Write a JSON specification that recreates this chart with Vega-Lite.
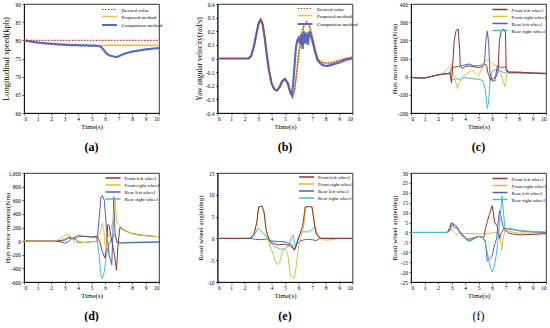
{
"$schema": "https://vega.github.io/schema/vega-lite/v6.json",
"background": "white",
"padding": {"left": 0, "top": 1, "right": 0, "bottom": 0},
"config": {
 "font": "Liberation Serif",
 "view": {"stroke": "#000", "strokeWidth": 0.8},
 "axis": {"labelFont": "Liberation Serif", "titleFont": "Liberation Serif", "labelFontSize": 5.5, "titleFontSize": 7, "titleFontWeight": "normal", "domainColor": "#000", "tickColor": "#000", "labelColor": "#000", "titleColor": "#000", "tickSize": 2, "labelPadding": 1, "grid": false, "domainWidth": 0.8, "tickWidth": 0.6},
 "axisX": {"titlePadding": 1, "labelAngle": 0},
 "axisY": {"titleX": -14, "labelPadding": 1.5},
 "legend": {"orient": "none", "legendX": 83, "legendY": 0, "labelFont": "Liberation Serif", "labelFontSize": 5, "labelColor": "#000", "symbolType": "M-2.5,0H2.5", "symbolSize": 36, "symbolFillColor": "transparent", "rowPadding": -0.5, "padding": 1, "labelOffset": 7.5},
 "title": {"font": "Liberation Serif", "fontSize": 12, "fontWeight": "bold", "color": "#000", "orient": "bottom", "frame": "group", "offset": 12, "anchor": "middle"}
},
"datasets": {
 "a": [
  {"t":0,"v":80,"s":"P"},{"t":0.5,"v":79.7,"s":"P"},{"t":1,"v":79.4,"s":"P"},{"t":1.5,"v":79.2,"s":"P"},{"t":2,"v":79.05,"s":"P"},{"t":2.5,"v":78.9,"s":"P"},{"t":3,"v":78.8,"s":"P"},{"t":3.5,"v":78.7,"s":"P"},{"t":4,"v":78.65,"s":"P"},{"t":4.5,"v":78.6,"s":"P"},{"t":5,"v":78.55,"s":"P"},{"t":5.5,"v":78.5,"s":"P"},{"t":5.7,"v":78.55,"s":"P"},{"t":6,"v":78.6,"s":"P"},{"t":7,"v":78.6,"s":"P"},{"t":8,"v":78.6,"s":"P"},{"t":9,"v":78.6,"s":"P"},{"t":10,"v":78.6,"s":"P"},
  {"t":0,"v":80,"s":"C"},{"t":0.5,"v":79.7,"s":"C"},{"t":1,"v":79.4,"s":"C"},{"t":1.5,"v":79.2,"s":"C"},{"t":2,"v":79.05,"s":"C"},{"t":2.5,"v":78.9,"s":"C"},{"t":3,"v":78.8,"s":"C"},{"t":3.5,"v":78.7,"s":"C"},{"t":4,"v":78.65,"s":"C"},{"t":4.5,"v":78.6,"s":"C"},{"t":5,"v":78.55,"s":"C"},{"t":5.5,"v":78.5,"s":"C"},{"t":5.7,"v":78.2,"s":"C"},{"t":5.9,"v":77.4,"s":"C"},{"t":6.1,"v":76.4,"s":"C"},{"t":6.3,"v":75.9,"s":"C"},{"t":6.5,"v":75.7,"s":"C"},{"t":6.8,"v":75.4,"s":"C"},{"t":7,"v":75.6,"s":"C"},{"t":7.3,"v":76.1,"s":"C"},{"t":7.6,"v":76.5,"s":"C"},{"t":8,"v":76.9,"s":"C"},{"t":8.5,"v":77.2,"s":"C"},{"t":9,"v":77.5,"s":"C"},{"t":9.5,"v":77.7,"s":"C"},{"t":10,"v":77.85,"s":"C"},
  {"t":0,"v":80,"s":"D"},{"t":10,"v":80,"s":"D"}
 ],
 "b": [
  {"t":0,"v":0,"s":"P"},{"t":2.3,"v":0,"s":"P"},{"t":2.5,"v":0.02,"s":"P"},{"t":2.7,"v":0.09,"s":"P"},{"t":2.9,"v":0.19,"s":"P"},{"t":3.05,"v":0.26,"s":"P"},{"t":3.2,"v":0.285,"s":"P"},{"t":3.35,"v":0.25,"s":"P"},{"t":3.5,"v":0.15,"s":"P"},{"t":3.65,"v":0.03,"s":"P"},{"t":3.8,"v":-0.08,"s":"P"},{"t":4,"v":-0.18,"s":"P"},{"t":4.2,"v":-0.225,"s":"P"},{"t":4.4,"v":-0.235,"s":"P"},{"t":4.6,"v":-0.21,"s":"P"},{"t":4.8,"v":-0.165,"s":"P"},{"t":5,"v":-0.15,"s":"P"},{"t":5.2,"v":-0.18,"s":"P"},{"t":5.4,"v":-0.25,"s":"P"},{"t":5.55,"v":-0.285,"s":"P"},{"t":5.7,"v":-0.24,"s":"P"},{"t":5.85,"v":-0.12,"s":"P"},{"t":6,"v":0.02,"s":"P"},{"t":6.2,"v":0.16,"s":"P"},{"t":6.4,"v":0.24,"s":"P"},{"t":6.6,"v":0.265,"s":"P"},{"t":6.8,"v":0.24,"s":"P"},{"t":7,"v":0.17,"s":"P"},{"t":7.2,"v":0.08,"s":"P"},{"t":7.4,"v":0,"s":"P"},{"t":7.6,"v":-0.02,"s":"P"},{"t":7.8,"v":-0.03,"s":"P"},{"t":8.1,"v":-0.035,"s":"P"},{"t":8.5,"v":-0.03,"s":"P"},{"t":9,"v":-0.015,"s":"P"},{"t":9.5,"v":0,"s":"P"},{"t":10,"v":0.01,"s":"P"},
  {"t":0,"v":0,"s":"C"},{"t":2.3,"v":0,"s":"C"},{"t":2.5,"v":0.02,"s":"C"},{"t":2.7,"v":0.09,"s":"C"},{"t":2.9,"v":0.19,"s":"C"},{"t":3.05,"v":0.26,"s":"C"},{"t":3.2,"v":0.285,"s":"C"},{"t":3.35,"v":0.25,"s":"C"},{"t":3.5,"v":0.15,"s":"C"},{"t":3.65,"v":0.03,"s":"C"},{"t":3.8,"v":-0.08,"s":"C"},{"t":4,"v":-0.18,"s":"C"},{"t":4.2,"v":-0.225,"s":"C"},{"t":4.4,"v":-0.235,"s":"C"},{"t":4.6,"v":-0.21,"s":"C"},{"t":4.8,"v":-0.165,"s":"C"},{"t":5,"v":-0.15,"s":"C"},{"t":5.2,"v":-0.18,"s":"C"},{"t":5.4,"v":-0.25,"s":"C"},{"t":5.5,"v":-0.265,"s":"C"},{"t":5.6,"v":-0.2,"s":"C"},{"t":5.7,"v":-0.06,"s":"C"},{"t":5.8,"v":0.07,"s":"C"},{"t":5.9,"v":0.13,"s":"C"},{"t":6,"v":0.15,"s":"C"},{"t":6.1,"v":0.11,"s":"C"},{"t":6.2,"v":0.18,"s":"C"},{"t":6.3,"v":0.07,"s":"C"},{"t":6.4,"v":0.2,"s":"C"},{"t":6.5,"v":0.11,"s":"C"},{"t":6.6,"v":0.19,"s":"C"},{"t":6.7,"v":0.1,"s":"C"},{"t":6.8,"v":0.2,"s":"C"},{"t":6.9,"v":0.17,"s":"C"},{"t":7,"v":0.14,"s":"C"},{"t":7.2,"v":0.06,"s":"C"},{"t":7.4,"v":-0.01,"s":"C"},{"t":7.6,"v":-0.035,"s":"C"},{"t":7.8,"v":-0.05,"s":"C"},{"t":8.1,"v":-0.055,"s":"C"},{"t":8.5,"v":-0.045,"s":"C"},{"t":9,"v":-0.03,"s":"C"},{"t":9.5,"v":-0.01,"s":"C"},{"t":10,"v":0,"s":"C"},
  {"t":0,"v":0,"s":"D"},{"t":2.3,"v":0,"s":"D"},{"t":2.5,"v":0.02,"s":"D"},{"t":2.7,"v":0.09,"s":"D"},{"t":2.9,"v":0.19,"s":"D"},{"t":3.05,"v":0.26,"s":"D"},{"t":3.2,"v":0.285,"s":"D"},{"t":3.35,"v":0.25,"s":"D"},{"t":3.5,"v":0.15,"s":"D"},{"t":3.65,"v":0.03,"s":"D"},{"t":3.8,"v":-0.08,"s":"D"},{"t":4,"v":-0.18,"s":"D"},{"t":4.2,"v":-0.225,"s":"D"},{"t":4.4,"v":-0.235,"s":"D"},{"t":4.6,"v":-0.21,"s":"D"},{"t":4.8,"v":-0.165,"s":"D"},{"t":5,"v":-0.15,"s":"D"},{"t":5.2,"v":-0.18,"s":"D"},{"t":5.4,"v":-0.25,"s":"D"},{"t":5.55,"v":-0.285,"s":"D"},{"t":5.7,"v":-0.24,"s":"D"},{"t":5.85,"v":-0.12,"s":"D"},{"t":6,"v":0.02,"s":"D"},{"t":6.2,"v":0.16,"s":"D"},{"t":6.4,"v":0.245,"s":"D"},{"t":6.6,"v":0.27,"s":"D"},{"t":6.8,"v":0.245,"s":"D"},{"t":7,"v":0.17,"s":"D"},{"t":7.2,"v":0.08,"s":"D"},{"t":7.4,"v":0,"s":"D"},{"t":7.6,"v":-0.02,"s":"D"},{"t":7.8,"v":-0.03,"s":"D"},{"t":8.1,"v":-0.035,"s":"D"},{"t":8.5,"v":-0.03,"s":"D"},{"t":9,"v":-0.015,"s":"D"},{"t":9.5,"v":0,"s":"D"},{"t":10,"v":0.01,"s":"D"}
 ],
 "c": [
  {"t":0,"v":-5,"s":"RR"},{"t":1,"v":-8,"s":"RR"},{"t":2,"v":10,"s":"RR"},{"t":2.5,"v":15,"s":"RR"},{"t":2.9,"v":15,"s":"RR"},{"t":3,"v":-20,"s":"RR"},{"t":3.3,"v":-10,"s":"RR"},{"t":3.6,"v":-15,"s":"RR"},{"t":4,"v":-5,"s":"RR"},{"t":4.5,"v":-10,"s":"RR"},{"t":5,"v":-15,"s":"RR"},{"t":5.3,"v":-20,"s":"RR"},{"t":5.5,"v":-70,"s":"RR"},{"t":5.65,"v":-175,"s":"RR"},{"t":5.75,"v":-140,"s":"RR"},{"t":5.85,"v":-20,"s":"RR"},{"t":6,"v":30,"s":"RR"},{"t":6.3,"v":40,"s":"RR"},{"t":6.6,"v":30,"s":"RR"},{"t":7,"v":20,"s":"RR"},{"t":7.2,"v":20,"s":"RR"},{"t":8,"v":20,"s":"RR"},{"t":9,"v":18,"s":"RR"},{"t":10,"v":15,"s":"RR"},
  {"t":0,"v":-5,"s":"FR"},{"t":1,"v":-8,"s":"FR"},{"t":2,"v":10,"s":"FR"},{"t":2.4,"v":20,"s":"FR"},{"t":2.7,"v":45,"s":"FR"},{"t":3,"v":70,"s":"FR"},{"t":3.2,"v":0,"s":"FR"},{"t":3.45,"v":-65,"s":"FR"},{"t":3.6,"v":-30,"s":"FR"},{"t":3.8,"v":0,"s":"FR"},{"t":4,"v":10,"s":"FR"},{"t":4.5,"v":35,"s":"FR"},{"t":4.8,"v":20,"s":"FR"},{"t":5,"v":5,"s":"FR"},{"t":5.3,"v":50,"s":"FR"},{"t":5.5,"v":85,"s":"FR"},{"t":5.7,"v":95,"s":"FR"},{"t":5.9,"v":80,"s":"FR"},{"t":6.1,"v":70,"s":"FR"},{"t":6.4,"v":55,"s":"FR"},{"t":6.6,"v":20,"s":"FR"},{"t":6.8,"v":-20,"s":"FR"},{"t":6.95,"v":-55,"s":"FR"},{"t":7.1,"v":10,"s":"FR"},{"t":7.3,"v":25,"s":"FR"},{"t":8,"v":25,"s":"FR"},{"t":9,"v":20,"s":"FR"},{"t":10,"v":18,"s":"FR"},
  {"t":0,"v":-5,"s":"RL"},{"t":1,"v":-8,"s":"RL"},{"t":2,"v":10,"s":"RL"},{"t":2.5,"v":15,"s":"RL"},{"t":2.9,"v":20,"s":"RL"},{"t":3,"v":50,"s":"RL"},{"t":3.5,"v":55,"s":"RL"},{"t":4,"v":65,"s":"RL"},{"t":4.3,"v":70,"s":"RL"},{"t":4.6,"v":60,"s":"RL"},{"t":5,"v":60,"s":"RL"},{"t":5.3,"v":65,"s":"RL"},{"t":5.45,"v":80,"s":"RL"},{"t":5.55,"v":200,"s":"RL"},{"t":5.65,"v":250,"s":"RL"},{"t":5.75,"v":190,"s":"RL"},{"t":5.85,"v":20,"s":"RL"},{"t":6,"v":-20,"s":"RL"},{"t":6.2,"v":-25,"s":"RL"},{"t":6.4,"v":60,"s":"RL"},{"t":6.7,"v":50,"s":"RL"},{"t":7,"v":55,"s":"RL"},{"t":7.2,"v":25,"s":"RL"},{"t":8,"v":22,"s":"RL"},{"t":9,"v":20,"s":"RL"},{"t":10,"v":18,"s":"RL"},
  {"t":0,"v":-5,"s":"FL"},{"t":1,"v":-8,"s":"FL"},{"t":2,"v":10,"s":"FL"},{"t":2.3,"v":12,"s":"FL"},{"t":2.6,"v":15,"s":"FL"},{"t":2.9,"v":20,"s":"FL"},{"t":3,"v":-35,"s":"FL"},{"t":3.05,"v":20,"s":"FL"},{"t":3.2,"v":200,"s":"FL"},{"t":3.35,"v":255,"s":"FL"},{"t":3.5,"v":262,"s":"FL"},{"t":3.6,"v":150,"s":"FL"},{"t":3.65,"v":60,"s":"FL"},{"t":3.8,"v":45,"s":"FL"},{"t":4,"v":55,"s":"FL"},{"t":4.3,"v":60,"s":"FL"},{"t":4.6,"v":55,"s":"FL"},{"t":5,"v":50,"s":"FL"},{"t":5.3,"v":55,"s":"FL"},{"t":5.5,"v":70,"s":"FL"},{"t":5.6,"v":60,"s":"FL"},{"t":5.7,"v":20,"s":"FL"},{"t":5.9,"v":-20,"s":"FL"},{"t":6.1,"v":-10,"s":"FL"},{"t":6.3,"v":0,"s":"FL"},{"t":6.45,"v":30,"s":"FL"},{"t":6.55,"v":200,"s":"FL"},{"t":6.7,"v":255,"s":"FL"},{"t":6.9,"v":262,"s":"FL"},{"t":7,"v":240,"s":"FL"},{"t":7.05,"v":30,"s":"FL"},{"t":7.3,"v":25,"s":"FL"},{"t":8,"v":25,"s":"FL"},{"t":9,"v":20,"s":"FL"},{"t":10,"v":18,"s":"FL"}
 ],
 "d": [
  {"t":0,"v":0,"s":"RR"},{"t":2.3,"v":0,"s":"RR"},{"t":2.7,"v":-5,"s":"RR"},{"t":3,"v":10,"s":"RR"},{"t":3.3,"v":40,"s":"RR"},{"t":3.5,"v":30,"s":"RR"},{"t":3.7,"v":20,"s":"RR"},{"t":4,"v":60,"s":"RR"},{"t":4.5,"v":70,"s":"RR"},{"t":5,"v":60,"s":"RR"},{"t":5.4,"v":50,"s":"RR"},{"t":5.55,"v":-200,"s":"RR"},{"t":5.7,"v":-500,"s":"RR"},{"t":5.8,"v":-550,"s":"RR"},{"t":5.95,"v":-450,"s":"RR"},{"t":6.1,"v":-200,"s":"RR"},{"t":6.3,"v":-50,"s":"RR"},{"t":6.5,"v":50,"s":"RR"},{"t":6.7,"v":100,"s":"RR"},{"t":6.9,"v":-10,"s":"RR"},{"t":7.2,"v":-20,"s":"RR"},{"t":8,"v":-15,"s":"RR"},{"t":9,"v":-10,"s":"RR"},{"t":10,"v":-10,"s":"RR"},
  {"t":0,"v":0,"s":"RL"},{"t":2.3,"v":0,"s":"RL"},{"t":2.7,"v":-10,"s":"RL"},{"t":3,"v":-30,"s":"RL"},{"t":3.3,"v":-10,"s":"RL"},{"t":3.5,"v":40,"s":"RL"},{"t":3.7,"v":50,"s":"RL"},{"t":4,"v":-10,"s":"RL"},{"t":4.5,"v":-20,"s":"RL"},{"t":5,"v":-10,"s":"RL"},{"t":5.4,"v":-5,"s":"RL"},{"t":5.55,"v":300,"s":"RL"},{"t":5.7,"v":650,"s":"RL"},{"t":5.8,"v":670,"s":"RL"},{"t":5.95,"v":600,"s":"RL"},{"t":6.1,"v":200,"s":"RL"},{"t":6.3,"v":-200,"s":"RL"},{"t":6.5,"v":-350,"s":"RL"},{"t":6.6,"v":200,"s":"RL"},{"t":6.65,"v":650,"s":"RL"},{"t":6.75,"v":100,"s":"RL"},{"t":6.9,"v":-20,"s":"RL"},{"t":7.2,"v":-30,"s":"RL"},{"t":8,"v":-25,"s":"RL"},{"t":9,"v":-20,"s":"RL"},{"t":10,"v":-15,"s":"RL"},
  {"t":0,"v":0,"s":"FL"},{"t":2.3,"v":0,"s":"FL"},{"t":2.7,"v":10,"s":"FL"},{"t":3,"v":20,"s":"FL"},{"t":3.3,"v":60,"s":"FL"},{"t":3.6,"v":40,"s":"FL"},{"t":3.8,"v":60,"s":"FL"},{"t":4,"v":80,"s":"FL"},{"t":4.5,"v":70,"s":"FL"},{"t":5,"v":60,"s":"FL"},{"t":5.4,"v":70,"s":"FL"},{"t":5.6,"v":0,"s":"FL"},{"t":5.8,"v":-150,"s":"FL"},{"t":6,"v":-250,"s":"FL"},{"t":6.1,"v":-100,"s":"FL"},{"t":6.2,"v":240,"s":"FL"},{"t":6.3,"v":230,"s":"FL"},{"t":6.5,"v":0,"s":"FL"},{"t":6.7,"v":-200,"s":"FL"},{"t":6.85,"v":-430,"s":"FL"},{"t":6.95,"v":-100,"s":"FL"},{"t":7.1,"v":200,"s":"FL"},{"t":7.4,"v":160,"s":"FL"},{"t":8,"v":110,"s":"FL"},{"t":9,"v":80,"s":"FL"},{"t":10,"v":65,"s":"FL"},
  {"t":0,"v":0,"s":"FR"},{"t":2.3,"v":0,"s":"FR"},{"t":2.7,"v":40,"s":"FR"},{"t":3,"v":80,"s":"FR"},{"t":3.3,"v":100,"s":"FR"},{"t":3.5,"v":60,"s":"FR"},{"t":3.7,"v":0,"s":"FR"},{"t":4,"v":-30,"s":"FR"},{"t":4.5,"v":-20,"s":"FR"},{"t":5,"v":-10,"s":"FR"},{"t":5.4,"v":0,"s":"FR"},{"t":5.6,"v":100,"s":"FR"},{"t":5.8,"v":260,"s":"FR"},{"t":5.9,"v":200,"s":"FR"},{"t":6,"v":-50,"s":"FR"},{"t":6.1,"v":-100,"s":"FR"},{"t":6.2,"v":50,"s":"FR"},{"t":6.4,"v":150,"s":"FR"},{"t":6.6,"v":300,"s":"FR"},{"t":6.75,"v":620,"s":"FR"},{"t":6.85,"v":300,"s":"FR"},{"t":7,"v":250,"s":"FR"},{"t":7.3,"v":180,"s":"FR"},{"t":7.6,"v":140,"s":"FR"},{"t":8,"v":110,"s":"FR"},{"t":8.5,"v":90,"s":"FR"},{"t":9,"v":80,"s":"FR"},{"t":9.5,"v":70,"s":"FR"},{"t":10,"v":65,"s":"FR"}
 ],
 "e": [
  {"t":0,"v":0,"s":"RR"},{"t":2.4,"v":0,"s":"RR"},{"t":2.7,"v":0.5,"s":"RR"},{"t":3,"v":2.4,"s":"RR"},{"t":3.3,"v":1.5,"s":"RR"},{"t":3.6,"v":0.5,"s":"RR"},{"t":3.9,"v":-1,"s":"RR"},{"t":4.3,"v":-2,"s":"RR"},{"t":4.7,"v":-2.5,"s":"RR"},{"t":5,"v":-2.4,"s":"RR"},{"t":5.3,"v":-1.5,"s":"RR"},{"t":5.5,"v":0.5,"s":"RR"},{"t":5.6,"v":0.8,"s":"RR"},{"t":5.7,"v":-1,"s":"RR"},{"t":5.8,"v":-2,"s":"RR"},{"t":6,"v":0.5,"s":"RR"},{"t":6.3,"v":1.5,"s":"RR"},{"t":6.8,"v":1.5,"s":"RR"},{"t":7.2,"v":2.5,"s":"RR"},{"t":7.4,"v":1,"s":"RR"},{"t":7.7,"v":0,"s":"RR"},{"t":10,"v":0,"s":"RR"},
  {"t":0,"v":0,"s":"RL"},{"t":2.4,"v":0,"s":"RL"},{"t":2.8,"v":-0.2,"s":"RL"},{"t":3.2,"v":-0.3,"s":"RL"},{"t":3.6,"v":-0.1,"s":"RL"},{"t":4,"v":-0.6,"s":"RL"},{"t":4.5,"v":-0.7,"s":"RL"},{"t":5,"v":-0.8,"s":"RL"},{"t":5.5,"v":-1.5,"s":"RL"},{"t":5.7,"v":-2.8,"s":"RL"},{"t":5.9,"v":-1.2,"s":"RL"},{"t":6.2,"v":-0.5,"s":"RL"},{"t":6.6,"v":-0.2,"s":"RL"},{"t":7,"v":-0.3,"s":"RL"},{"t":7.3,"v":-0.5,"s":"RL"},{"t":7.6,"v":0,"s":"RL"},{"t":10,"v":0,"s":"RL"},
  {"t":0,"v":0,"s":"FR"},{"t":2.4,"v":0,"s":"FR"},{"t":2.7,"v":1,"s":"FR"},{"t":2.9,"v":3.5,"s":"FR"},{"t":3.05,"v":7.2,"s":"FR"},{"t":3.3,"v":7.4,"s":"FR"},{"t":3.45,"v":6,"s":"FR"},{"t":3.6,"v":2,"s":"FR"},{"t":3.8,"v":-1,"s":"FR"},{"t":4.1,"v":-3.5,"s":"FR"},{"t":4.4,"v":-6,"s":"FR"},{"t":4.6,"v":-5.5,"s":"FR"},{"t":4.8,"v":-3,"s":"FR"},{"t":5,"v":-2.5,"s":"FR"},{"t":5.2,"v":-3.5,"s":"FR"},{"t":5.4,"v":-8.5,"s":"FR"},{"t":5.55,"v":-9,"s":"FR"},{"t":5.7,"v":-9,"s":"FR"},{"t":5.85,"v":-6,"s":"FR"},{"t":6,"v":-2,"s":"FR"},{"t":6.2,"v":0.5,"s":"FR"},{"t":6.4,"v":3,"s":"FR"},{"t":6.5,"v":7.2,"s":"FR"},{"t":6.8,"v":7.3,"s":"FR"},{"t":7,"v":7.2,"s":"FR"},{"t":7.2,"v":3,"s":"FR"},{"t":7.5,"v":0.3,"s":"FR"},{"t":8,"v":-0.4,"s":"FR"},{"t":8.5,"v":-0.3,"s":"FR"},{"t":9,"v":0,"s":"FR"},{"t":10,"v":0,"s":"FR"},
  {"t":0,"v":0,"s":"FL"},{"t":2.4,"v":0,"s":"FL"},{"t":2.7,"v":1,"s":"FL"},{"t":2.9,"v":3.5,"s":"FL"},{"t":3.05,"v":7.2,"s":"FL"},{"t":3.3,"v":7.4,"s":"FL"},{"t":3.45,"v":6,"s":"FL"},{"t":3.6,"v":2,"s":"FL"},{"t":3.8,"v":0,"s":"FL"},{"t":4,"v":-1,"s":"FL"},{"t":4.5,"v":-1.5,"s":"FL"},{"t":5,"v":-1.3,"s":"FL"},{"t":5.4,"v":-1.8,"s":"FL"},{"t":5.7,"v":-2.5,"s":"FL"},{"t":5.9,"v":-1,"s":"FL"},{"t":6.1,"v":1,"s":"FL"},{"t":6.3,"v":2.8,"s":"FL"},{"t":6.5,"v":7.2,"s":"FL"},{"t":6.8,"v":7.3,"s":"FL"},{"t":7,"v":7.2,"s":"FL"},{"t":7.15,"v":4,"s":"FL"},{"t":7.3,"v":1,"s":"FL"},{"t":7.6,"v":0,"s":"FL"},{"t":8,"v":0,"s":"FL"},{"t":10,"v":0,"s":"FL"}
 ],
 "f": [
  {"t":0,"v":0,"s":"FR"},{"t":2.7,"v":0,"s":"FR"},{"t":3,"v":1.5,"s":"FR"},{"t":3.3,"v":-1,"s":"FR"},{"t":3.6,"v":-0.5,"s":"FR"},{"t":4,"v":-0.5,"s":"FR"},{"t":5,"v":-0.8,"s":"FR"},{"t":5.8,"v":-0.5,"s":"FR"},{"t":6.2,"v":0,"s":"FR"},{"t":6.5,"v":-0.5,"s":"FR"},{"t":6.62,"v":-3,"s":"FR"},{"t":6.72,"v":-9,"s":"FR"},{"t":6.85,"v":-2,"s":"FR"},{"t":7,"v":1.5,"s":"FR"},{"t":7.3,"v":0.5,"s":"FR"},{"t":8,"v":-0.3,"s":"FR"},{"t":10,"v":-0.2,"s":"FR"},
  {"t":0,"v":0,"s":"FL"},{"t":2.7,"v":0,"s":"FL"},{"t":2.85,"v":2,"s":"FL"},{"t":3,"v":5,"s":"FL"},{"t":3.2,"v":3,"s":"FL"},{"t":3.5,"v":1.5,"s":"FL"},{"t":3.8,"v":-1,"s":"FL"},{"t":4.2,"v":-3.5,"s":"FL"},{"t":4.5,"v":-3,"s":"FL"},{"t":5,"v":-2,"s":"FL"},{"t":5.4,"v":-2.5,"s":"FL"},{"t":5.55,"v":3,"s":"FL"},{"t":5.8,"v":9,"s":"FL"},{"t":6.02,"v":13.5,"s":"FL"},{"t":6.2,"v":5,"s":"FL"},{"t":6.4,"v":3,"s":"FL"},{"t":6.55,"v":-3,"s":"FL"},{"t":6.7,"v":0,"s":"FL"},{"t":6.85,"v":1.5,"s":"FL"},{"t":7,"v":1,"s":"FL"},{"t":7.3,"v":-0.5,"s":"FL"},{"t":8,"v":-1.2,"s":"FL"},{"t":9,"v":-1,"s":"FL"},{"t":10,"v":-0.6,"s":"FL"},
  {"t":0,"v":0,"s":"RL"},{"t":2.7,"v":0,"s":"RL"},{"t":2.9,"v":2,"s":"RL"},{"t":3.1,"v":4.5,"s":"RL"},{"t":3.4,"v":3,"s":"RL"},{"t":3.7,"v":-1,"s":"RL"},{"t":4,"v":-3,"s":"RL"},{"t":4.3,"v":-4.5,"s":"RL"},{"t":4.6,"v":-3.5,"s":"RL"},{"t":5,"v":-2,"s":"RL"},{"t":5.3,"v":-2.5,"s":"RL"},{"t":5.5,"v":-4,"s":"RL"},{"t":5.65,"v":-14.5,"s":"RL"},{"t":5.8,"v":-13.5,"s":"RL"},{"t":6,"v":-12,"s":"RL"},{"t":6.2,"v":-6,"s":"RL"},{"t":6.35,"v":-3,"s":"RL"},{"t":6.45,"v":5,"s":"RL"},{"t":6.55,"v":11,"s":"RL"},{"t":6.7,"v":7,"s":"RL"},{"t":6.85,"v":2,"s":"RL"},{"t":7,"v":2,"s":"RL"},{"t":7.5,"v":1.5,"s":"RL"},{"t":8,"v":0.8,"s":"RL"},{"t":9,"v":0.3,"s":"RL"},{"t":10,"v":0,"s":"RL"},
  {"t":0,"v":0,"s":"RR"},{"t":2.7,"v":0,"s":"RR"},{"t":3,"v":1.5,"s":"RR"},{"t":3.2,"v":3,"s":"RR"},{"t":3.4,"v":2,"s":"RR"},{"t":3.6,"v":0,"s":"RR"},{"t":3.9,"v":-2,"s":"RR"},{"t":4.3,"v":-4,"s":"RR"},{"t":4.6,"v":-3.5,"s":"RR"},{"t":5,"v":-2,"s":"RR"},{"t":5.3,"v":-2.5,"s":"RR"},{"t":5.5,"v":-5,"s":"RR"},{"t":5.65,"v":-10,"s":"RR"},{"t":5.85,"v":-17,"s":"RR"},{"t":6.02,"v":-20,"s":"RR"},{"t":6.15,"v":-18,"s":"RR"},{"t":6.3,"v":-12,"s":"RR"},{"t":6.45,"v":-4,"s":"RR"},{"t":6.6,"v":8,"s":"RR"},{"t":6.75,"v":18.5,"s":"RR"},{"t":6.85,"v":10,"s":"RR"},{"t":6.95,"v":2.5,"s":"RR"},{"t":7.1,"v":2,"s":"RR"},{"t":7.5,"v":1.8,"s":"RR"},{"t":8,"v":1,"s":"RR"},{"t":9,"v":0.5,"s":"RR"},{"t":10,"v":0.2,"s":"RR"}
 ]
},
"columns": 3,
"spacing": {"row": 60, "column": 58.5},
"bounds": "flush",
"resolve": {"scale": {"color": "independent", "strokeDash": "independent", "strokeWidth": "independent"}, "legend": {"color": "independent", "strokeDash": "independent", "strokeWidth": "independent"}},
"concat": [
 {
  "width": 135, "height": 109,
  "data": {"name": "a"},
  "title": {"text": "(a)"},
  "mark": {"type": "line"},
  "encoding": {
   "x": {"field": "t", "type": "quantitative", "scale": {"domain": [0, 10], "nice": false}, "axis": {"title": "Time(s)", "values": [0,1,2,3,4,5,6,7,8,9,10]}},
   "y": {"field": "v", "type": "quantitative", "scale": {"domain": [60, 90], "nice": false, "zero": false}, "axis": {"title": "Longitudinal speed(kph)", "titleFontSize": 8.5, "values": [60,65,70,75,80,85,90]}},
   "color": {"field": "s", "type": "nominal", "scale": {"domain": ["D","P","C"], "range": ["#B8312F","#E6C043","#5A68BE"]}, "legend": {"title": null, "orient": "none", "legendX": 80, "legendY": 0.5, "labelExpr": "{'D':'Desired value','P':'Proposed method','C':'Comparison method'}[datum.label]"}},
   "strokeDash": {"field": "s", "type": "nominal", "scale": {"domain": ["D","P","C"], "range": [[1.5,1.5],[1,0],[1,0]]}, "legend": {"title": null, "orient": "none", "legendX": 80, "legendY": 0.5, "labelExpr": "{'D':'Desired value','P':'Proposed method','C':'Comparison method'}[datum.label]"}},
   "strokeWidth": {"field": "s", "type": "nominal", "scale": {"domain": ["D","P","C"], "range": [1.2,2.2,1.2]}, "legend": {"title": null, "orient": "none", "legendX": 80, "legendY": 0.5, "labelExpr": "{'D':'Desired value','P':'Proposed method','C':'Comparison method'}[datum.label]"}}
  }
 },
 {
  "width": 135, "height": 109,
  "data": {"name": "b"},
  "title": {"text": "(b)"},
  "mark": {"type": "line"},
  "encoding": {
   "x": {"field": "t", "type": "quantitative", "scale": {"domain": [0, 10], "nice": false}, "axis": {"title": "Time(s)", "values": [0,1,2,3,4,5,6,7,8,9,10]}},
   "y": {"field": "v", "type": "quantitative", "scale": {"domain": [-0.4, 0.4], "nice": false}, "axis": {"title": "Yaw angular velocity(rad/s)", "titleFontSize": 7.5, "values": [-0.4,-0.3,-0.2,-0.1,0,0.1,0.2,0.3,0.4], "labelExpr": "datum.value == 0 ? '0' : replace(format(datum.value, '.1f'), '\u2212', '-')"}},
   "color": {"field": "s", "type": "nominal", "scale": {"domain": ["D","P","C"], "range": ["#B8312F","#E6C043","#5A68BE"]}, "legend": {"title": null, "orient": "none", "legendX": 82, "legendY": -0.5, "labelExpr": "{'D':'Desired value','P':'Proposed method','C':'Comparison method'}[datum.label]"}},
   "strokeDash": {"field": "s", "type": "nominal", "scale": {"domain": ["D","P","C"], "range": [[1.5,1.5],[1,0],[1,0]]}, "legend": {"title": null, "orient": "none", "legendX": 82, "legendY": -0.5, "labelExpr": "{'D':'Desired value','P':'Proposed method','C':'Comparison method'}[datum.label]"}},
   "strokeWidth": {"field": "s", "type": "nominal", "scale": {"domain": ["D","P","C"], "range": [1.2,2.2,1.2]}, "legend": {"title": null, "orient": "none", "legendX": 82, "legendY": -0.5, "labelExpr": "{'D':'Desired value','P':'Proposed method','C':'Comparison method'}[datum.label]"}}
  }
 },
 {
  "width": 135, "height": 109,
  "data": {"name": "c"},
  "title": {"text": "(c)"},
  "mark": {"type": "line", "strokeWidth": 1},
  "encoding": {
   "x": {"field": "t", "type": "quantitative", "scale": {"domain": [0, 10], "nice": false}, "axis": {"title": "Time(s)", "values": [0,1,2,3,4,5,6,7,8,9,10]}},
   "y": {"field": "v", "type": "quantitative", "scale": {"domain": [-200, 400], "nice": false}, "axis": {"title": "Hub motor moment(Nm)", "values": [-200,-100,0,100,200,300,400], "labelExpr": "replace(datum.label, '\u2212', '-')"}},
   "color": {"field": "s", "type": "nominal", "scale": {"domain": ["FL","FR","RL","RR"], "range": ["#8B3A2E","#DCC23A","#5060B4","#4DB6D6"]}, "legend": {"title": null, "orient": "none", "legendX": 84, "legendY": 0.5, "labelExpr": "{'FL':'Front left wheel','FR':'Front right wheel','RL':'Rear left wheel','RR':'Rear right wheel'}[datum.label]"}}
  }
 },
 {
  "width": 135, "height": 109,
  "data": {"name": "d"},
  "title": {"text": "(d)"},
  "mark": {"type": "line", "strokeWidth": 1},
  "encoding": {
   "x": {"field": "t", "type": "quantitative", "scale": {"domain": [0, 10], "nice": false}, "axis": {"title": "Time(s)", "values": [0,1,2,3,4,5,6,7,8,9,10]}},
   "y": {"field": "v", "type": "quantitative", "scale": {"domain": [-600, 1000], "nice": false}, "axis": {"title": "Hub motor moment(Nm)", "values": [-600,-400,-200,0,200,400,600,800,1000], "labelExpr": "replace(datum.label, '\u2212', '-')"}},
   "color": {"field": "s", "type": "nominal", "scale": {"domain": ["FL","FR","RL","RR"], "range": ["#8B3A2E","#DCC23A","#5060B4","#4DB6D6"]}, "legend": {"title": null, "orient": "none", "legendX": 84, "legendY": 0, "labelExpr": "{'FL':'Front left wheel','FR':'Front right wheel','RL':'Rear left wheel','RR':'Rear right wheel'}[datum.label]"}}
  }
 },
 {
  "width": 135, "height": 109,
  "data": {"name": "e"},
  "title": {"text": "(e)"},
  "mark": {"type": "line", "strokeWidth": 1},
  "encoding": {
   "x": {"field": "t", "type": "quantitative", "scale": {"domain": [0, 10], "nice": false}, "axis": {"title": "Time(s)", "values": [0,1,2,3,4,5,6,7,8,9,10]}},
   "y": {"field": "v", "type": "quantitative", "scale": {"domain": [-10, 15], "nice": false}, "axis": {"title": "Road wheel angle(deg)", "values": [-10,-5,0,5,10,15], "labelExpr": "replace(datum.label, '\u2212', '-')"}},
   "color": {"field": "s", "type": "nominal", "scale": {"domain": ["FL","FR","RL","RR"], "range": ["#8B3A2E","#E0B848","#5060B4","#4DB6D6"]}, "legend": {"title": null, "orient": "none", "legendX": 84, "legendY": -1, "labelExpr": "{'FL':'Front left wheel','FR':'Front right wheel','RL':'Rear left wheel','RR':'Rear right wheel'}[datum.label]"}}
  }
 },
 {
  "width": 135, "height": 109,
  "data": {"name": "f"},
  "title": {"text": "(f)", "fontWeight": "normal"},
  "mark": {"type": "line", "strokeWidth": 1},
  "encoding": {
   "x": {"field": "t", "type": "quantitative", "scale": {"domain": [0, 10], "nice": false}, "axis": {"title": "Time(s)", "values": [0,1,2,3,4,5,6,7,8,9,10]}},
   "y": {"field": "v", "type": "quantitative", "scale": {"domain": [-25, 30], "nice": false}, "axis": {"title": "Road wheel angle(deg)", "values": [-25,-20,-15,-10,-5,0,5,10,15,20,25,30], "labelExpr": "replace(datum.label, '\u2212', '-')"}},
   "color": {"field": "s", "type": "nominal", "scale": {"domain": ["FL","FR","RL","RR"], "range": ["#8B3A2E","#E0B848","#5060B4","#4DB6D6"]}, "legend": {"title": null, "orient": "none", "legendX": 84, "legendY": 0.5, "labelExpr": "{'FL':'Front left wheel','FR':'Front right wheel','RL':'Rear left wheel','RR':'Rear right wheel'}[datum.label]"}}
  }
 }
]
}
